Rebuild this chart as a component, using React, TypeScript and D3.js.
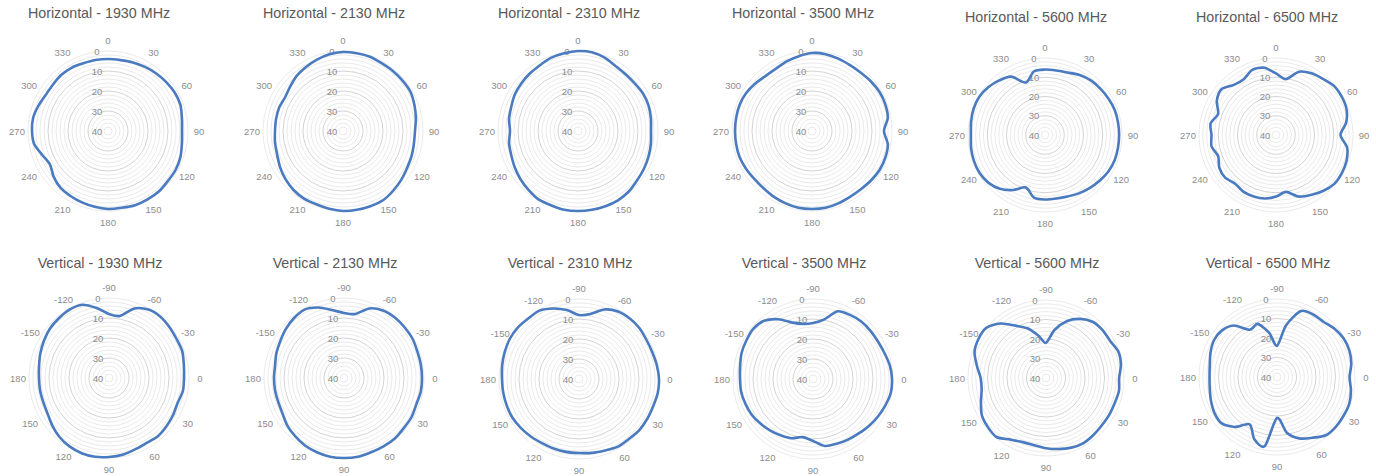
import React from 'react';
import * as d3 from 'd3';

// samples every 10 degrees, clockwise from the top of each plot, in dB below peak
const STEP = 10;

const horizontalLabels = ['0', '30', '60', '90', '120', '150', '180', '210', '240', '270', '300', '330'];
const verticalLabels = ['-90', '-60', '-30', '0', '30', '60', '90', '120', '150', '180', '-150', '-120'];
const radialTicks = [0, 10, 20, 30, 40];

const h1930 = [4, 4, 3.5, 3, 2.5, 2, 1.5, 1.5, 2.5, 3, 2.5, 1.5, 1, 1, 0.5, 0.5, 0.5, 1,
  1, 1.5, 2, 2.5, 3, 4.5, 6.5, 5, 2.5, 2, 2, 3, 4, 4, 3.5, 3.5, 4, 4];
const h2130 = [0.5, 0.5, 0.5, 1, 1, 1, 1, 2, 3, 4, 4, 3.5, 3, 2, 1, 0, 0, 0,
  0, 0.5, 1, 1, 1.5, 2.5, 3.7, 5, 5.5, 6, 6, 6, 6.5, 5.5, 4, 3, 2, 1];
const h2310 = [0, 0, 1, 2.5, 3, 3, 2.5, 2.5, 3, 3.5, 3, 2.5, 2, 1.5, 0.5, 0, 0, 0,
  0, 0, 0.5, 0.5, 1.5, 2.5, 3.5, 4.5, 5, 6, 5, 4.5, 3.5, 3, 2.5, 2, 1, 0.5];
const h3500 = [1, 1, 1.5, 2, 2, 1.5, 1, 1, 1.5, 4, 1.5, 1, 1, 1.5, 2, 2, 1.5, 1,
  1, 1, 1.5, 2, 2.5, 2.5, 2, 1.5, 1.5, 1.5, 1.5, 1.5, 2, 3, 4, 4, 3, 2];
const h5600 = [6, 6, 5.5, 4, 3, 2.5, 2, 1.5, 1.5, 1.5, 1.5, 1.5, 2, 3, 4, 5, 6, 6.5,
  6.5, 7, 11, 7, 3.5, 1.5, 0.7, 0.7, 1, 1.5, 1, 0.5, 0.5, 1.5, 3, 5, 11, 6.5];
const h6500 = [8, 10.5, 5, 3, 2, 0.5, 0.5, 1, 3, 6.5, 2.5, 1, 0.5, 0.5, 2, 4, 6, 10,
  8, 6.5, 6, 6, 7, 5.5, 6, 8, 6, 6.5, 5.5, 8, 4.5, 3, 6, 6.5, 4, 4.5];

const v1930 = [8, 8.5, 3, 0.5, 0, 0.5, 1, 1, 2, 2.5, 2.5, 3.5, 3, 2.5, 2, 2.5, 2, 1,
  0.5, 0, 0, 0.5, 1.5, 3, 4.5, 5, 5, 5, 4.5, 3.5, 2.5, 1.5, 1, 0.5, 1, 4.5];
const v2130 = [7.5, 7.5, 3, 1, 0.5, 0.5, 0.5, 1, 1, 1, 1, 1.5, 1, 1, 0.5, 0.5, 0.5, 0,
  0, 0, 0.5, 1, 2, 3, 4.5, 5, 5, 5, 5, 4, 3.2, 2, 1, 0.5, 2.5, 5.5];
const v2310 = [8, 7, 3, 1, 0.5, 0.5, 1, 1, 0.5, 0, 0, 0.5, 0.5, 0.5, 1, 1, 2, 2.5,
  3, 3, 3, 3, 2.5, 2, 1.5, 1.5, 1.5, 1.5, 1, 0.5, 0, 0, 0.5, 0.5, 2.5, 5];
const v3500 = [12, 10, 4, 3, 2.5, 2.5, 2.5, 2, 1, 0.5, 0.5, 1.5, 2.5, 3.5, 4.5, 5, 5.5, 6,
  9, 10.5, 8.5, 7.5, 6.5, 5.5, 4.5, 4, 3.5, 3.5, 3, 2, 1.5, 1, 2, 5.5, 10, 12];
const v5600 = [22, 15, 9, 5, 2.5, 2, 2, 0.5, 1, 2.5, 2, 2.5, 2.5, 2.5, 2, 1.5, 2, 3,
  4, 5, 5, 3.5, 0.5, 1, 2, 4.5, 6.5, 6.5, 4, 1, 0, 0, 3.5, 9, 13, 18];
const v6500 = [24, 13, 4, 3, 3, 1.5, 0.5, 0.5, 1.3, 2.8, 1.5, 0.5, 0.5, 0.5, 1, 4, 6.5, 11,
  19, 4, 6, 12, 6.5, 3, 3, 4, 5, 5.4, 5, 3.7, 2.6, 3, 5.5, 12, 11, 17];

const titles = [
  'Horizontal - 1930 MHz', 'Horizontal - 2130 MHz', 'Horizontal - 2310 MHz',
  'Horizontal - 3500 MHz', 'Horizontal - 5600 MHz', 'Horizontal - 6500 MHz',
  'Vertical - 1930 MHz', 'Vertical - 2130 MHz', 'Vertical - 2310 MHz',
  'Vertical - 3500 MHz', 'Vertical - 5600 MHz', 'Vertical - 6500 MHz',
];
const series = [h1930, h2130, h2310, h3500, h5600, h6500, v1930, v2130, v2310, v3500, v5600, v6500];

// layout of the 12 small plots
const centersX = [108, 343, 578, 812, 1045, 1276];
const topRow = { cy: [131, 131, 131, 131, 135, 135], titleY: [13, 13, 13, 13, 17, 17], r: [80, 80, 80, 80, 77, 77] };
const bottomRow = { cy: [378, 378, 379, 379, 378, 377], titleY: [263, 263, 263, 263, 263, 263], r: [80, 80, 80, 80, 78, 78] };

const FONT = '"Liberation Sans", Arial, sans-serif';
const LINE = '#4a7bc0';

interface PolarProps {
  title: string;
  data: number[];
  labels: string[];
  cx: number;
  cy: number;
  titleY: number;
  radius: number;
}

const Polar: React.FC<PolarProps> = ({ title, data, labels, cx, cy, titleY, radius }) => {
  const r = d3.scaleLinear().domain([40, 0]).range([0, radius]);
  const a = d3.scaleLinear().domain([0, 360]).range([0, 2 * Math.PI]);
  const rings = d3.range(0, 40, 2);

  const line = d3.lineRadial<number>()
    .angle((_, i) => a(i * STEP))
    .radius(d => r(d))
    .curve(d3.curveCardinalClosed.tension(0.2));

  const labelR = radius + 11;

  return (
    <g>
      <text x={cx - 9} y={titleY} textAnchor="middle" dominantBaseline="central"
        fontFamily={FONT} fontSize={14.3} fill="#595959">{title}</text>
      <g transform={`translate(${cx},${cy})`}>
        {rings.map(v => (
          <circle key={v} r={r(v)} fill="none"
            stroke={v % 10 === 0 && v !== 0 ? '#c8c8c8' : '#e5e5e5'} strokeWidth={0.8} />
        ))}
        {radialTicks.map(v => (
          <text key={v} x={-11} y={-r(v)} textAnchor="middle" dominantBaseline="central"
            fontFamily={FONT} fontSize={9.5} fill="#8c8c8c">{v}</text>
        ))}
        {labels.map((lab, i) => {
          const ang = a(i * 30);
          return (
            <text key={lab} x={labelR * Math.sin(ang)} y={-labelR * Math.cos(ang)}
              textAnchor="middle" dominantBaseline="central"
              fontFamily={FONT} fontSize={9.5} fill="#8c8c8c">{lab}</text>
          );
        })}
        <path d={line(data) || ''} fill="none" stroke={LINE} strokeWidth={2.6} strokeLinejoin="round" />
      </g>
    </g>
  );
};

const App: React.FC = () => {
  return (
    <svg width={1376} height={476} style={{ position: 'absolute', left: 0, top: 0, background: '#fff' }}>
      {series.map((d, i) => {
        const col = i % 6;
        const row = i < 6 ? topRow : bottomRow;
        return (
          <Polar key={titles[i]} title={titles[i]} data={d}
            labels={i < 6 ? horizontalLabels : verticalLabels}
            cx={centersX[col] + (i < 6 ? 0 : 1)} cy={row.cy[col]} titleY={row.titleY[col]}
            radius={row.r[col]} />
        );
      })}
    </svg>
  );
};

export default App;
